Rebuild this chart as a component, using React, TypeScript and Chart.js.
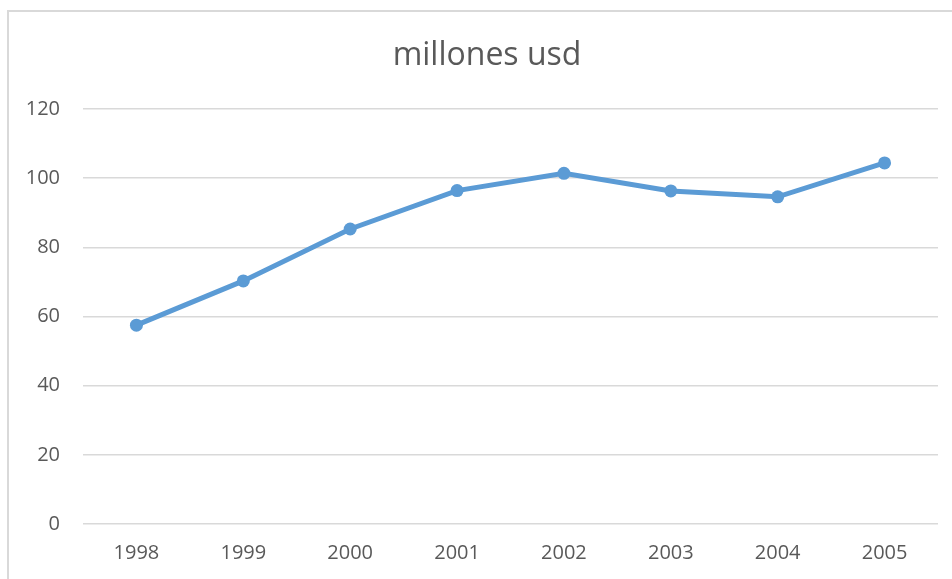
import React, { useEffect, useRef } from "react";
import { Chart, registerables } from "chart.js";

Chart.register(...registerables);

const categories = ["1998", "1999", "2000", "2001", "2002", "2003", "2004", "2005"];
const values = [57.5, 70.3, 85.3, 96.4, 101.4, 96.3, 94.6, 104.4];
const yTicks = [0, 20, 40, 60, 80, 100, 120];
const titleText = "millones usd";

const titlePlugin = {
  id: "excelTitle",
  afterDraw(chart: any) {
    const ctx = chart.ctx;
    ctx.save();
    ctx.fillStyle = "#595959";
    ctx.font = "32px 'Open Sans', sans-serif";
    ctx.textAlign = "center";
    ctx.textBaseline = "alphabetic";
    ctx.fillText(titleText, 487, 65);
    ctx.restore();
  },
};

export default function App() {
  const ref = useRef<HTMLCanvasElement | null>(null);

  useEffect(() => {
    if (!ref.current) return;
    const chart = new Chart(ref.current, {
      type: "line",
      data: {
        labels: categories,
        datasets: [
          {
            data: values,
            borderColor: "#5b9bd5",
            backgroundColor: "#5b9bd5",
            borderWidth: 5,
            pointRadius: 6.5,
            pointBorderWidth: 0,
            pointBackgroundColor: "#5b9bd5",
            tension: 0,
          },
        ],
      },
      plugins: [titlePlugin],
      options: {
        animation: false,
        responsive: false,
        layout: { padding: { top: 109, right: 14, left: 0, bottom: 0 } },
        plugins: {
          legend: { display: false },
          tooltip: { enabled: false },
          title: { display: false },
        },
        scales: {
          x: {
            offset: true,
            afterFit: (axis: any) => {
              axis.height = 55;
            },
            grid: { display: false, drawTicks: false },
            border: { display: false },
            ticks: {
              color: "#595959",
              font: { family: "'Open Sans', sans-serif", size: 20, lineHeight: 1.2 },
              padding: 17,
              maxRotation: 0,
            },
          },
          y: {
            min: 0,
            max: 120,
            afterBuildTicks: (axis: any) => {
              axis.ticks = yTicks.map((v) => ({ value: v }));
            },
            afterFit: (axis: any) => {
              axis.width = 83;
            },
            grid: { color: "#d9d9d9", lineWidth: 1.5, drawTicks: false },
            border: { display: false },
            ticks: {
              color: "#595959",
              font: { family: "'Open Sans', sans-serif", size: 20, lineHeight: 1.2 },
              padding: 23,
            },
          },
        },
      },
    });
    return () => chart.destroy();
  }, []);

  return (
    <div
      style={{
        position: "fixed",
        left: 0,
        top: 0,
        width: 952,
        height: 579,
        overflow: "hidden",
        background: "#ffffff",
      }}
    >
      <div
        style={{
          position: "absolute",
          left: 7,
          top: 10,
          width: 1000,
          height: 1000,
          borderLeft: "2px solid #d9d9d9",
          borderTop: "2px solid #d9d9d9",
        }}
      />
      <canvas
        ref={ref}
        width={952}
        height={579}
        style={{ position: "absolute", left: 0, top: 0, width: 952, height: 579 }}
      />
    </div>
  );
}
